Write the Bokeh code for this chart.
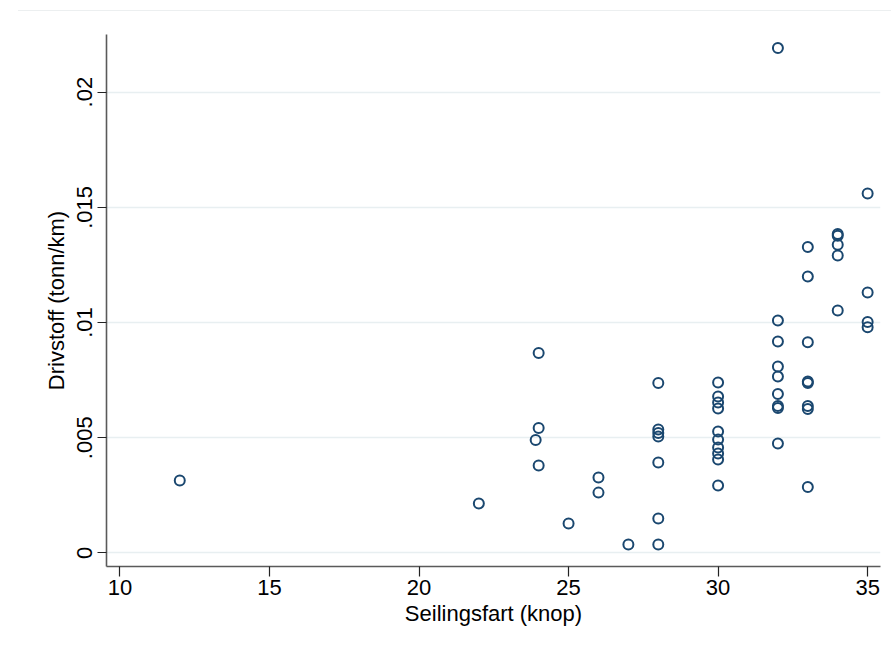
from bokeh.plotting import figure
from bokeh.models import FixedTicker, CustomJSTickFormatter, Range1d
from bokeh.embed import file_html
from bokeh.resources import INLINE

# Data
speed_knots = [12, 22, 23.9, 24, 24, 24, 25, 26, 26, 27,
               28, 28, 28, 28, 28, 28, 28,
               30, 30, 30, 30, 30, 30, 30, 30, 30, 30,
               32, 32, 32, 32, 32, 32, 32, 32, 32,
               33, 33, 33, 33, 33, 33, 33, 33,
               34, 34, 34, 34, 34,
               35, 35, 35, 35]
fuel_tonn_per_km = [0.00315, 0.00215, 0.0049, 0.00868, 0.00542, 0.0038, 0.00128, 0.00328, 0.00262, 0.00037,
                    0.00738, 0.00536, 0.00521, 0.00505, 0.00393, 0.0015, 0.00037,
                    0.0074, 0.00679, 0.00653, 0.00627, 0.00527, 0.00492, 0.00458, 0.00432, 0.00406, 0.00293,
                    0.02191, 0.01009, 0.00918, 0.00809, 0.00766, 0.0069, 0.00638, 0.00629, 0.00475,
                    0.01328, 0.012, 0.00915, 0.00744, 0.00738, 0.00638, 0.00625, 0.00286,
                    0.01384, 0.01377, 0.01338, 0.01291, 0.01052,
                    0.0156, 0.0113, 0.01002, 0.0098]
x_ticks = [10, 15, 20, 25, 30, 35]
y_ticks = [0, 0.005, 0.01, 0.015, 0.02]
x_title = "Seilingsfart (knop)"
y_title = "Drivstoff (tonn/km)"

FONT = "Liberation Sans"
AXIS_COLOR = "#5a5a5a"
GRID_COLOR = "#e8eff1"
MARKER_COLOR = "#1a476f"

p = figure(width=873, height=635, output_backend="svg", toolbar_location=None,
           x_range=Range1d(9.55, 35.43), y_range=Range1d(-0.000586, 0.0225),
           min_border_left=88, min_border_right=11, min_border_top=23, min_border_bottom=80)
p.margin = (10, 0, 0, 18)
p.styles = {"border-top": "1px solid #eceff0"}
p.outline_line_color = None
p.background_fill_color = "white"
p.border_fill_color = "white"

p.scatter(speed_knots, fuel_tonn_per_km, marker="circle", size=10,
          fill_color=None, line_color=MARKER_COLOR, line_width=2)

# X axis
p.xaxis.ticker = FixedTicker(ticks=x_ticks)
p.xgrid.visible = False
p.xaxis.axis_label = x_title
p.xaxis.axis_label_text_font = FONT
p.xaxis.axis_label_text_font_size = "22px"
p.xaxis.axis_label_text_font_style = "normal"
p.xaxis.axis_label_text_color = "black"
p.xaxis.axis_label_standoff = 3
p.xaxis.major_label_text_font = FONT
p.xaxis.major_label_text_font_size = "22px"
p.xaxis.major_label_text_color = "black"
p.xaxis.major_label_standoff = 3
p.xaxis.major_tick_out = 10
p.xaxis.major_tick_in = 0
p.xaxis.minor_tick_out = 0
p.xaxis.minor_tick_in = 0
p.xaxis.axis_line_color = AXIS_COLOR
p.xaxis.axis_line_width = 1.6
p.xaxis.major_tick_line_color = "#222222"
p.xaxis.major_tick_line_width = 1.2

# Y axis
p.yaxis.ticker = FixedTicker(ticks=y_ticks)
p.yaxis.formatter = CustomJSTickFormatter(code="""
    if (Math.abs(tick) < 1e-12) { return "0"; }
    let s = tick.toFixed(3).replace(/0+$/, "");
    return s.replace(/^0/, "");
""")
p.yaxis.major_label_orientation = "vertical"
p.yaxis.axis_label = y_title
p.yaxis.axis_label_text_font = FONT
p.yaxis.axis_label_text_font_size = "22px"
p.yaxis.axis_label_text_font_style = "normal"
p.yaxis.axis_label_text_color = "black"
p.yaxis.axis_label_standoff = 6
p.yaxis.major_label_text_font = FONT
p.yaxis.major_label_text_font_size = "22px"
p.yaxis.major_label_text_color = "black"
p.yaxis.major_label_standoff = 5
p.yaxis.major_tick_out = 9
p.yaxis.major_tick_in = 0
p.yaxis.minor_tick_out = 0
p.yaxis.minor_tick_in = 0
p.yaxis.axis_line_color = AXIS_COLOR
p.yaxis.axis_line_width = 1.6
p.yaxis.major_tick_line_color = "#222222"
p.yaxis.major_tick_line_width = 1.2
p.ygrid.grid_line_color = GRID_COLOR
p.ygrid.grid_line_width = 1.6

open("out.html", "w").write(file_html(p, INLINE))
